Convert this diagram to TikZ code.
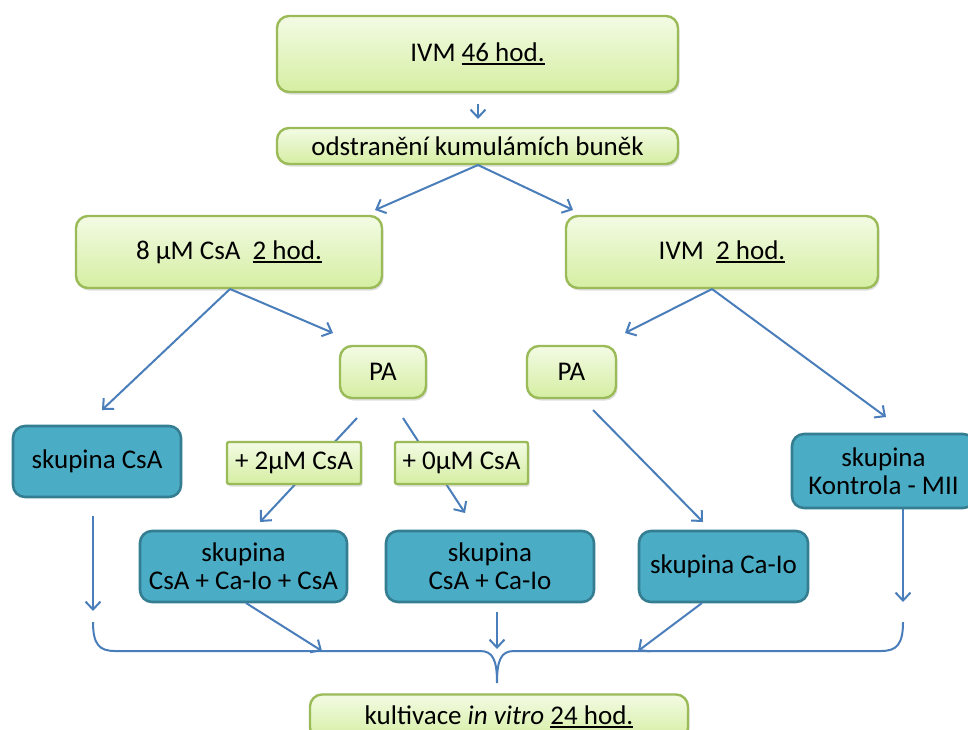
\documentclass[tikz,border=0pt]{standalone}
\usepackage{fontspec}
\setmainfont{Carlito}
\usetikzlibrary{arrows.meta,shadows}
\pgfdeclarelayer{background}
\pgfdeclarelayer{canvasbg}
\pgfsetlayers{canvasbg,background,main}
\definecolor{gborder}{HTML}{9BBB59}
\definecolor{gtop}{HTML}{F3FBE4}
\definecolor{gbot}{HTML}{D5EEA2}
\definecolor{tealf}{HTML}{4BACC6}
\definecolor{tealb}{HTML}{357D91}
\definecolor{arr}{HTML}{4A7EBB}
\newcommand\myul[1]{\setbox0\hbox{#1}\rlap{\rule[-4pt]{\wd0}{2.4pt}}\box0}
\tikzset{
  gbox/.style={draw=gborder, line width=2.4pt, rounded corners=12pt,
    top color=gtop, bottom color=gbot, inner sep=0pt,
    drop shadow={opacity=0.25, shadow xshift=1.5pt, shadow yshift=-2.5pt}},
  gsmall/.style={gbox, rounded corners=2pt},
  tbox/.style={draw=tealb, line width=2.6pt, rounded corners=12pt,
    fill=tealf, inner sep=0pt, align=center},
  conn/.style={draw=arr, line width=2pt},
  arrw/.style={conn, -{Straight Barb[length=8pt,width=15pt]}},
}
\begin{document}
\begin{tikzpicture}[x=1pt,y=-1pt,font=\fontsize{27}{29}\selectfont]
\clip (0,0) rectangle (968,729);
\begin{pgfonlayer}{canvasbg}
\fill[white] (0,0) rectangle (968,729);
\end{pgfonlayer}
% green boxes
\node[gbox, minimum width=401pt, minimum height=76pt] (ivm) at (477.5,54) {IVM \myul{46 hod.}};
\node[gbox, minimum width=401pt, minimum height=36pt] (odst) at (477.5,146) {odstranění kumulámích buněk};
\node[gbox, minimum width=306pt, minimum height=72pt] (csa8) at (229,252) {8 µM CsA\ \ \myul{2 hod.}};
\node[gbox, minimum width=312pt, minimum height=72pt] (ivm2) at (722,252) {IVM\ \ \myul{2 hod.}};
\node[gbox, minimum width=86pt, minimum height=52pt] (pa1) at (383,372) {PA};
\node[gbox, minimum width=89pt, minimum height=52pt] (pa2) at (571.5,372) {PA};
\node[gsmall, minimum width=134pt, minimum height=42pt] (p2) at (294,463) {+ 2µM CsA};
\node[gsmall, minimum width=133pt, minimum height=42pt] (p0) at (461.5,463) {+ 0µM CsA};
\node[gbox, minimum width=378pt, minimum height=45pt] (kult) at (499,717) {\raisebox{2pt}{kultivace \textit{in vitro}\ \myul{24 hod.}}};
% teal boxes
\node[tbox, minimum width=168pt, minimum height=71pt] (skcsa) at (97,461.5) {skupina CsA};
\node[tbox, minimum width=207pt, minimum height=71pt] (sk3) at (243.5,566.5) {skupina\\[-1pt]CsA + Ca-Io + CsA};
\node[tbox, minimum width=208pt, minimum height=71pt] (sk2) at (490,566.5) {skupina\\[-1pt]CsA + Ca-Io};
\node[tbox, minimum width=169pt, minimum height=71pt] (skca) at (723.5,566.5) {skupina Ca-Io};
\node[tbox, minimum width=183pt, minimum height=74pt] (skk) at (883.5,471) {skupina\\[-1pt]Kontrola - MII};
% connector end points
\coordinate (c1s) at (478,104); \coordinate (c1e) at (478,119);
\coordinate (c2s) at (478,165); \coordinate (c2l) at (375,210); \coordinate (c2r) at (573,210);
\coordinate (c3s) at (230,289); \coordinate (c3l) at (102,410); \coordinate (c3r) at (333,333);
\coordinate (c4s) at (712,289); \coordinate (c4l) at (625,333); \coordinate (c4r) at (886,417);
\coordinate (c5s) at (357,418); \coordinate (c5e) at (260,522);
\coordinate (c6s) at (403,418); \coordinate (c6e) at (465,513);
\coordinate (c7s) at (593,410); \coordinate (c7e) at (703,522);
\coordinate (c8s) at (93,516); \coordinate (c8e) at (93,611);
\coordinate (c9e) at (903,602);
\coordinate (c10s) at (246,603); \coordinate (c10e) at (322,651);
\coordinate (c11s) at (497,612); \coordinate (c11e) at (497,649);
\coordinate (c12s) at (702,603); \coordinate (c12e) at (638,651);
\coordinate (bl) at (93,622); \coordinate (bm) at (497,683); \coordinate (br) at (903,622);
% connectors
\draw[arrw] (c1s) -- (c1e);
\draw[arrw] (c2s) -- (c2l);
\draw[arrw] (c2s) -- (c2r);
\draw[arrw] (c3s) -- (c3l);
\draw[arrw] (c3s) -- (c3r);
\draw[arrw] (c4s) -- (c4l);
\draw[arrw] (c4s) -- (c4r);
\begin{pgfonlayer}{background}
\draw[arrw] (c5s) -- (c5e);
\draw[arrw] (c6s) -- (c6e);
\end{pgfonlayer}
\draw[arrw] (c7s) -- (c7e);
\draw[arrw] (c8s) -- (c8e);
\draw[arrw] (skk.south -| c9e) -- (c9e);
\draw[arrw] (c10s) -- (c10e);
\draw[arrw] (c11s) -- (c11e);
\draw[arrw] (c12s) -- (c12e);
% brace
\draw[conn] (bl) .. controls (93,644) and (99,651) .. (115,651) -- (480,651)
  .. controls (493,651) and (497,660) .. (bm)
  .. controls (497,660) and (501,651) .. (514,651) -- (881,651)
  .. controls (897,651) and (903,644) .. (br);
\end{tikzpicture}
\end{document}
